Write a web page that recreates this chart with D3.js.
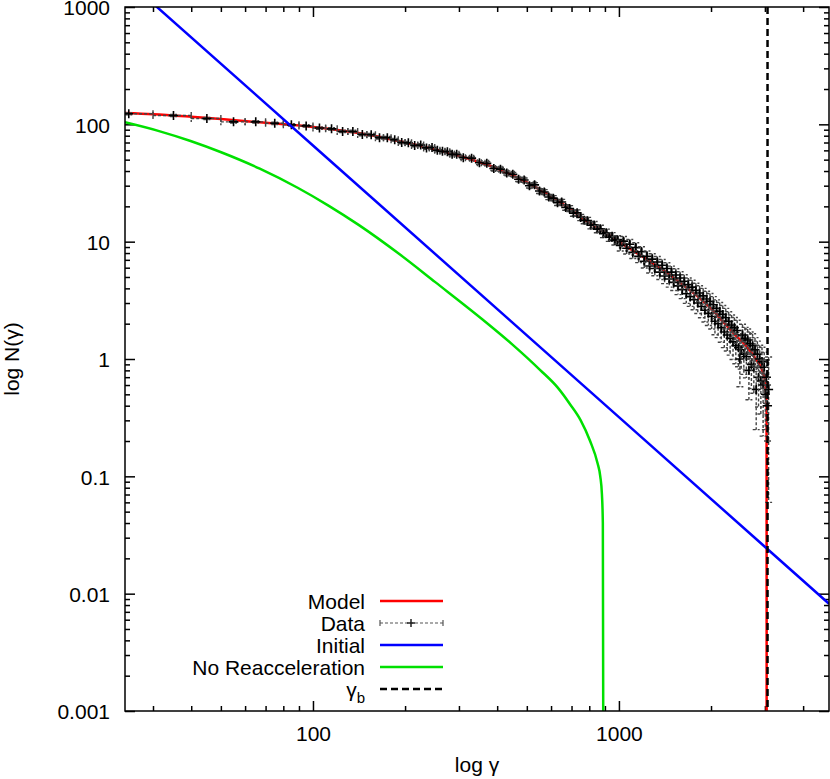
<!DOCTYPE html>
<html>
<head>
<meta charset="utf-8">
<script src="https://cdn.jsdelivr.net/npm/d3@7"></script>
<style>
  body { margin: 0; background: #fff; }
  text { font-family: "Liberation Sans", Arial, Helvetica, sans-serif; font-size: 21px; fill: #000; }
  .axis line { stroke: #000; stroke-width: 1.5; }
</style>
</head>
<body>
<div class="chart"></div>
<script>
// ---- data ----
var xMajorTicks = [100, 1000];
var xTickLabels = ["100", "1000"];
var yMajorTicks = [0.001, 0.01, 0.1, 1, 10, 100, 1000];
var yTickLabels = ["0.001", "0.01", "0.1", "1", "10", "100", "1000"];

var modelGamma = [24.3, 30, 40, 50, 70, 100, 150, 200, 300, 400, 500, 600, 700, 800, 900, 1000, 1200, 1400, 1600, 1800, 2000, 2200, 2400, 2600, 2800, 2950, 3000, 3020, 3032, 3038, 3040];
var modelN = [125, 122, 116, 111, 103, 95, 82, 70, 54, 42, 32, 24.3, 18.6, 14.5, 12, 10, 7.4, 5.7, 4.4, 3.45, 2.7, 2.05, 1.6, 1.3, 1.0, 0.78, 0.66, 0.55, 0.47, 0.35, 0.0005];

var initialGamma = [24.3, 100, 1000, 4860];
var initialN = [1745, 66, 0.32, 0.0082];

var noReaccGamma = [24.3, 31.6, 39.8, 50.1, 67, 89.1, 112, 141, 192, 251, 360, 447, 553, 631, 693, 750, 805, 851, 869, 880, 886, 889];
var noReaccN = [104, 87.1, 72.1, 57.8, 41.9, 28.8, 20.4, 13.9, 7.8, 4.52, 2.15, 1.34, 0.805, 0.57, 0.41, 0.3, 0.2, 0.13, 0.1, 0.07, 0.04, 0.0005];

var gammaB = 3060;
var dataGammaErr = 5;

var dataGamma = [
  25, 35, 45, 55, 65, 75, 85, 95, 105, 115, 125, 135, 145, 155, 165, 175, 185, 195, 205, 215, 225, 235, 245, 255, 265, 275, 285, 295,
  310, 330, 350, 370, 390, 410, 430, 450, 470, 490, 510, 530, 550, 570, 590, 610, 630, 650, 670, 690, 710, 730, 750, 770, 790, 810, 830, 850, 870, 890, 910, 930, 950, 970, 990,
  1010, 1035, 1060, 1085, 1110, 1135, 1160, 1185, 1210, 1235, 1260, 1285, 1310, 1335, 1360, 1385, 1410, 1435, 1460, 1485,
  1510, 1535, 1560, 1585, 1610, 1635, 1660, 1685, 1710, 1735, 1760, 1785, 1810, 1835, 1860, 1885, 1910, 1935, 1960, 1985,
  2010, 2035, 2060, 2085, 2110, 2135, 2160, 2185, 2210, 2235, 2260, 2285, 2310, 2335, 2360, 2385, 2410, 2435, 2460, 2485,
  2510, 2535, 2560, 2585, 2610, 2635, 2660, 2685, 2710, 2735, 2760, 2785, 2810, 2835, 2860, 2885, 2910, 2935, 2960, 2985,
  3010, 3035, 3060, 3085
];
var dataN = [
  123, 119, 112, 105, 105, 102, 99, 97, 93, 91.5, 87, 87, 82, 81.5, 77, 77, 74, 70, 69.5, 66, 66.5, 63, 63.5, 60, 59, 58.5, 55.5, 55.5,
  52, 51.5, 47, 46.5, 42, 41.5, 38.5, 37.5, 34, 33.5, 30, 30.5, 27, 26.5, 24, 23.5, 21.5, 21.8, 19.6, 19.2, 17.5, 17.6, 16.1, 15.2, 15.1, 13.8, 13.9, 12.8, 12.9, 11.7, 11.9, 10.9, 11.1, 10.2, 10.4,
  9.3, 10.1, 8.8, 9.5, 8.1, 8.9, 7.5, 8.2, 6.8, 7.5, 6.2, 7.1, 5.9, 6.7, 5.5, 6.3, 5.1, 5.9, 4.8, 5.5,
  4.5, 5.2, 4.2, 4.9, 3.9, 4.6, 3.6, 4.3, 3.4, 4.1, 3.2, 3.85, 3.0, 3.65, 2.8, 3.45, 2.6, 3.25, 2.45, 3.1,
  2.3, 2.9, 2.1, 2.7, 2.0, 2.55, 1.85, 2.4, 1.7, 2.25, 1.6, 2.1, 1.5, 1.95, 1.4, 1.85, 1.3, 1.75, 1.25, 1.0,
  1.2, 1.6, 1.1, 1.5, 1.05, 1.45, 0.8, 1.35, 0.9, 1.3, 0.85, 1.2, 0.55, 1.1, 0.7, 1.0, 0.65, 0.95, 0.6, 0.85,
  0.5, 0.7, 0.4, 0.55
];
var dataErr = [
  2.5, 2.4, 2.4, 2.3, 2.3, 2.2, 2.2, 2.2, 2.2, 2.1, 2.1, 2.1, 2.0, 2.0, 2.0, 2.0, 1.9, 1.9, 1.9, 1.8, 1.8, 1.8, 1.8, 1.7, 1.7, 1.7, 1.7, 1.7,
  1.7, 1.7, 1.65, 1.6, 1.55, 1.55, 1.5, 1.45, 1.4, 1.4, 1.35, 1.35, 1.3, 1.25, 1.2, 1.2, 1.15, 1.15, 1.1, 1.1, 1.05, 1.05, 1.0, 1.0, 1.0, 0.95, 0.95, 0.9, 0.9, 0.88, 0.88, 0.85, 0.85, 0.82, 0.82,
  0.98, 0.98, 0.95, 0.94, 0.91, 0.9, 0.87, 0.85, 0.84, 0.83, 0.8, 0.8, 0.77, 0.77, 0.74, 0.74, 0.71, 0.71, 0.7, 0.69,
  0.67, 0.67, 0.66, 0.64, 0.63, 0.63, 0.62, 0.6, 0.59, 0.59, 0.57, 0.57, 0.56, 0.56, 0.55, 0.55, 0.53, 0.53, 0.52, 0.52,
  0.5, 0.5, 0.49, 0.49, 0.48, 0.48, 0.46, 0.46, 0.45, 0.45, 0.43, 0.43, 0.42, 0.42, 0.41, 0.41, 0.39, 0.39, 0.39, 0.42,
  0.38, 0.38, 0.36, 0.36, 0.36, 0.35, 0.35, 0.35, 0.34, 0.34, 0.34, 0.32, 0.3, 0.32, 0.31, 0.31, 0.31, 0.31, 0.38, 0.29,
  0.25, 0.28, 0.2, 0.49
];

var legendLabels = ["Model", "Data", "Initial", "No Reacceleration", "γb"];

// ---- layout ----
var svgWidth = 830;
var svgHeight = 779;
var margin = { top: 7, right: 1, bottom: 68, left: 125 };
var width = svgWidth - margin.left - margin.right;
var height = svgHeight - margin.top - margin.bottom;

var svg = d3.select(".chart")
  .append("svg")
  .attr("width", svgWidth)
  .attr("height", svgHeight);

var chartGroup = svg.append("g")
  .attr("transform", `translate(${margin.left}, ${margin.top})`);

chartGroup.append("clipPath")
  .attr("id", "plotClip")
  .append("rect")
  .attr("width", width)
  .attr("height", height);

var xScale = d3.scaleLog().domain([24.3, 4860]).range([0, width]);
var yScale = d3.scaleLog().domain([0.001, 1000]).range([height, 0]);

function isDecade(t) {
  var l = Math.log10(t);
  return Math.abs(l - Math.round(l)) < 1e-6;
}
var xMinor = xScale.ticks().filter(t => !isDecade(t));
var yMinor = yScale.ticks().filter(t => !isDecade(t));

// ---- axes (ticks inward, mirrored on top/right) ----
function styleAxis(g) {
  g.select(".domain").remove();
  g.selectAll("text").attr("font-size", 21).attr("font-family", "Liberation Sans, Arial, sans-serif");
}

chartGroup.append("g").attr("class", "axis")
  .attr("transform", `translate(0, ${height})`)
  .call(d3.axisBottom(xScale).tickValues(xMajorTicks).tickFormat((d, i) => xTickLabels[i])
    .tickSizeInner(-10).tickSizeOuter(0).tickPadding(15))
  .call(styleAxis);
chartGroup.append("g").attr("class", "axis")
  .attr("transform", `translate(0, ${height})`)
  .call(d3.axisBottom(xScale).tickValues(xMinor).tickFormat("").tickSizeInner(-5).tickSizeOuter(0))
  .call(styleAxis);
chartGroup.append("g").attr("class", "axis")
  .call(d3.axisTop(xScale).tickValues(xMajorTicks).tickFormat("").tickSizeInner(-10).tickSizeOuter(0))
  .call(styleAxis);
chartGroup.append("g").attr("class", "axis")
  .call(d3.axisTop(xScale).tickValues(xMinor).tickFormat("").tickSizeInner(-5).tickSizeOuter(0))
  .call(styleAxis);

chartGroup.append("g").attr("class", "axis")
  .call(d3.axisLeft(yScale).tickValues(yMajorTicks).tickFormat((d, i) => yTickLabels[i])
    .tickSizeInner(-10).tickSizeOuter(0).tickPadding(15))
  .call(styleAxis)
  .call(g => g.selectAll("text").attr("dy", "0.38em"));
chartGroup.append("g").attr("class", "axis")
  .call(d3.axisLeft(yScale).tickValues(yMinor).tickFormat("").tickSizeInner(-5).tickSizeOuter(0))
  .call(styleAxis);
chartGroup.append("g").attr("class", "axis")
  .attr("transform", `translate(${width}, 0)`)
  .call(d3.axisRight(yScale).tickValues(yMajorTicks).tickFormat("").tickSizeInner(-10).tickSizeOuter(0))
  .call(styleAxis);
chartGroup.append("g").attr("class", "axis")
  .attr("transform", `translate(${width}, 0)`)
  .call(d3.axisRight(yScale).tickValues(yMinor).tickFormat("").tickSizeInner(-5).tickSizeOuter(0))
  .call(styleAxis);

// ---- curves ----
var plot = chartGroup.append("g").attr("clip-path", "url(#plotClip)");

var smoothLine = d3.line()
  .x(d => xScale(d[0]))
  .y(d => yScale(d[1]))
  .curve(d3.curveMonotoneX);

plot.append("path")
  .datum(d3.zip(modelGamma, modelN))
  .attr("d", smoothLine)
  .attr("fill", "none")
  .attr("stroke", "#ff0000")
  .attr("stroke-width", 2.5);

// data points with dashed x/y error bars
var dataRows = d3.zip(dataGamma, dataN, dataErr);
var cap = 3.5;
var pts = plot.append("g").selectAll("g")
  .data(dataRows)
  .enter()
  .append("g");

pts.append("path")
  .attr("d", d => {
    var x = xScale(d[0]), y = yScale(d[1]);
    var xl = xScale(d[0] - dataGammaErr), xr = xScale(d[0] + dataGammaErr);
    var yt = yScale(d[1] + d[2]), yb = yScale(Math.max(d[1] - d[2], 1e-4));
    return `M${xl},${y}H${xr}M${xl},${y - cap}V${y + cap}M${xr},${y - cap}V${y + cap}` +
      `M${x},${yt}V${yb}M${x - cap},${yt}H${x + cap}M${x - cap},${yb}H${x + cap}`;
  })
  .attr("fill", "none")
  .attr("stroke", "#444")
  .attr("stroke-width", 1.4)
  .attr("stroke-dasharray", "3,2");

pts.append("path")
  .attr("d", d => {
    var x = xScale(d[0]), y = yScale(d[1]);
    return `M${x - 4.5},${y}H${x + 4.5}M${x},${y - 4.5}V${y + 4.5}`;
  })
  .attr("stroke", "#000")
  .attr("stroke-width", 1.6);

plot.append("path")
  .datum(d3.zip(initialGamma, initialN))
  .attr("d", d3.line().x(d => xScale(d[0])).y(d => yScale(d[1])))
  .attr("fill", "none")
  .attr("stroke", "#0000ff")
  .attr("stroke-width", 2.5);

plot.append("path")
  .datum(d3.zip(noReaccGamma, noReaccN))
  .attr("d", smoothLine)
  .attr("fill", "none")
  .attr("stroke", "#00e000")
  .attr("stroke-width", 2.5);

plot.append("line")
  .attr("x1", xScale(gammaB)).attr("x2", xScale(gammaB))
  .attr("y1", 0).attr("y2", height)
  .attr("stroke", "#000")
  .attr("stroke-width", 2.5)
  .attr("stroke-dasharray", "7,4");

// border
chartGroup.append("rect")
  .attr("width", width)
  .attr("height", height)
  .attr("fill", "none")
  .attr("stroke", "#000")
  .attr("stroke-width", 1.5);

// ---- legend ----
var legendColors = ["#ff0000", "#555", "#0000ff", "#00e000", "#000"];
var legend = svg.append("g");
legendLabels.forEach(function(label, i) {
  var cy = 601 + i * 22;
  var t = legend.append("text")
    .attr("x", 365)
    .attr("y", cy + 7.5)
    .attr("text-anchor", "end");
  if (i === 4) {
    t.append("tspan").text(label.charAt(0));
    t.append("tspan").attr("font-size", 15).attr("dy", 6).text(label.charAt(1));
  } else {
    t.text(label);
  }
  var ln = legend.append("line")
    .attr("x1", 380).attr("x2", 443)
    .attr("y1", cy).attr("y2", cy)
    .attr("stroke", legendColors[i])
    .attr("stroke-width", i === 1 ? 1.2 : 2.5);
  if (i === 1) {
    ln.attr("stroke-dasharray", "3,2");
    legend.append("path")
      .attr("d", `M380,${cy - 3}V${cy + 3}M443,${cy - 3}V${cy + 3}`)
      .attr("stroke", "#555").attr("stroke-width", 1.2);
    legend.append("path")
      .attr("d", `M407,${cy}H415M411,${cy - 4}V${cy + 4}`)
      .attr("stroke", "#222").attr("stroke-width", 1.5);
  }
  if (i === 4) ln.attr("stroke-dasharray", "7,4");
});

// ---- axis titles ----
svg.append("text")
  .attr("transform", `translate(19, ${margin.top + height / 2}) rotate(-90)`)
  .attr("text-anchor", "middle")
  .text("log N(γ)");

svg.append("text")
  .attr("x", margin.left + width / 2)
  .attr("y", 772)
  .attr("text-anchor", "middle")
  .text("log γ");
</script>
</body>
</html>
